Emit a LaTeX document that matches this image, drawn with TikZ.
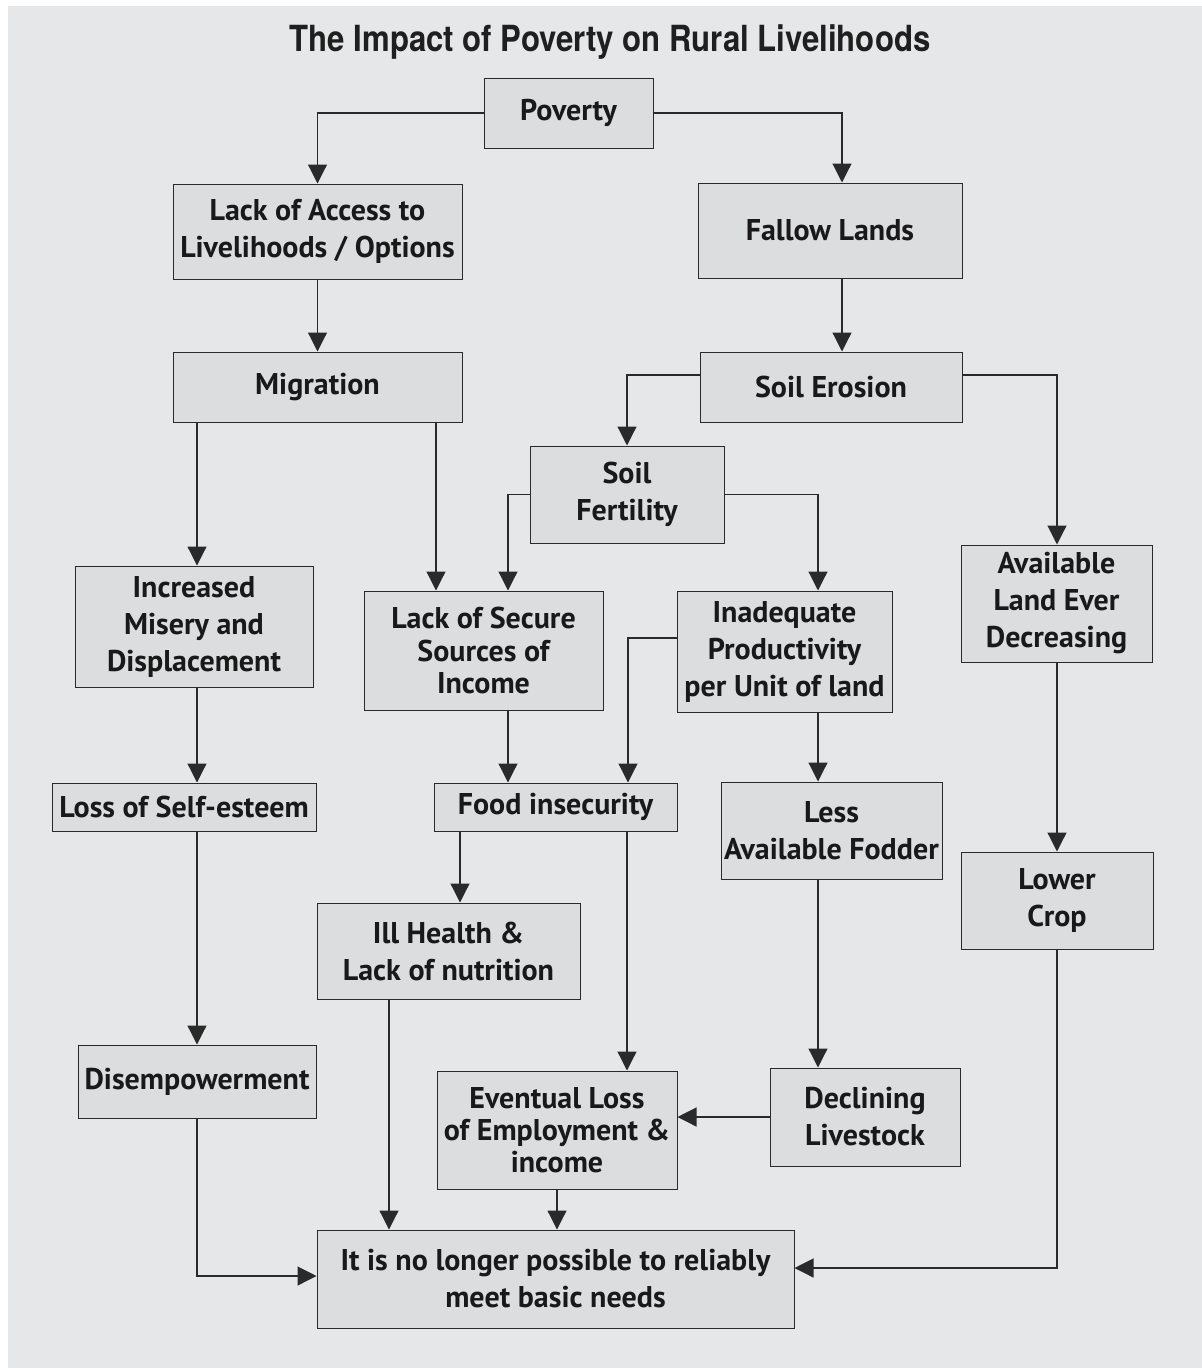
\documentclass[tikz,border=0pt]{standalone}
\usepackage{fontspec}
\setmainfont{PT Sans}
\newfontfamily\titlefont{TeX Gyre Heros}[FakeStretch=0.865]
\usetikzlibrary{arrows.meta}
\definecolor{bgc}{HTML}{E6E7E9}
\definecolor{boxc}{HTML}{DCDDDF}
\definecolor{linec}{HTML}{2A2A2A}
\begin{document}
\begin{tikzpicture}[x=1pt,y=-1pt,
  box/.style={draw=linec, line width=1pt, fill=boxc, inner sep=0pt, align=center,
    font=\fontsize{30}{37}\selectfont\bfseries, text=black!90},
  arr/.style={draw=linec, line width=1.2pt, -{Triangle[width=19pt,length=19pt]}},
  ln/.style={draw=linec, line width=1.2pt}]
\useasboundingbox (0,0) rectangle (1202,1368);
\fill[bgc] (8,6) rectangle (1202,1368);
\node[font=\titlefont\fontsize{36}{40}\selectfont\bfseries, text=black!88] (title) at (610,42) {The Impact of Poverty on Rural Livelihoods};
% boxes
\node[box, minimum width=169pt, minimum height=70pt] (pov) at (568.5,113) {Poverty};
\node[box, minimum width=289pt, minimum height=95pt] (acc) at (317.5,231.5) {\raisebox{-4pt}{\parbox{285pt}{\centering Lack of Access to\\Livelihoods / Options}}};
\node[box, minimum width=264pt, minimum height=95pt] (fal) at (830,230.5) {Fallow Lands};
\node[box, minimum width=289pt, minimum height=70pt] (mig) at (317.5,387) {Migration};
\node[box, minimum width=262pt, minimum height=70pt] (ero) at (831,387) {Soil Erosion};
\node[box, minimum width=194pt, minimum height=97pt] (fer) at (627,494.5) {Soil\\Fertility};
\node[box, minimum width=238pt, minimum height=121pt] (mis) at (194,626.5) {Increased\\Misery and\\Displacement};
\node[box, minimum width=239pt, minimum height=119pt, font=\fontsize{30}{32.5}\selectfont\bfseries] (sec) at (483.5,650.5) {Lack of Secure\\Sources of\\Income};
\node[box, minimum width=215pt, minimum height=121pt] (inq) at (784.5,651.5) {Inadequate\\Productivity\\per Unit of land};
\node[box, minimum width=191pt, minimum height=117pt] (avl) at (1056.5,603.5) {Available\\Land Ever\\Decreasing};
\node[box, minimum width=264pt, minimum height=48pt] (self) at (184,807) {Loss of Self-esteem};
\node[box, minimum width=243pt, minimum height=48pt] (food) at (555.5,807) {Food insecurity};
\node[box, minimum width=221pt, minimum height=97pt] (fod) at (831.5,830.5) {Less\\Available Fodder};
\node[box, minimum width=263pt, minimum height=96pt] (ill) at (448.5,951) {Ill Health \&\\Lack of nutrition};
\node[box, minimum width=192pt, minimum height=97pt] (low) at (1057,900.5) {Lower\\Crop};
\node[box, minimum width=238pt, minimum height=73pt] (dis) at (197,1081.5) {Disempowerment};
\node[box, minimum width=240pt, minimum height=118pt, font=\fontsize{30}{32}\selectfont\bfseries] (evl) at (557,1130) {Eventual Loss\\of Employment \&\\income};
\node[box, minimum width=190pt, minimum height=98pt] (liv) at (865,1117) {Declining\\Livestock};
\node[box, minimum width=477pt, minimum height=98pt] (end) at (555.5,1279) {It is no longer possible to reliably\\meet basic needs};
% helper coordinates
\coordinate (x197) at (197,0);
\coordinate (x436) at (436,0);
\coordinate (x508) at (508,0);
\coordinate (x628) at (628,0);
\coordinate (x818) at (818,0);
\coordinate (x842) at (842,0);
\coordinate (x460) at (460,0);
\coordinate (x627) at (627,0);
\coordinate (x389) at (389,0);
\coordinate (x1057) at (1057,0);
\coordinate (y375) at (0,375);
\coordinate (y638) at (0,638);
\coordinate (y1276) at (0,1276);
\coordinate (y1268) at (0,1268);
% connectors
\draw[arr] (pov.west) -| (acc.north);
\draw[arr] (pov.east) -| (fal.north -| x842);
\draw[arr] (acc.south) -- (mig.north);
\draw[arr] (fal.south -| x842) -- (ero.north -| x842);
\draw[arr] (ero.west |- y375) -| (fer.north);
\draw[arr] (ero.east |- y375) -| (avl.north -| x1057);
\draw[arr] (mig.south -| x197) -- (mis.north -| x197);
\draw[arr] (mig.south -| x436) -- (sec.north -| x436);
\draw[arr] (fer.west) -| (sec.north -| x508);
\draw[arr] (fer.east) -| (inq.north -| x818);
\draw[arr] (mis.south -| x197) -- (self.north -| x197);
\draw[arr] (sec.south -| x508) -- (food.north -| x508);
\draw[arr] (inq.west |- y638) -| (food.north -| x628);
\draw[arr] (inq.south -| x818) -- (fod.north -| x818);
\draw[arr] (avl.south -| x1057) -- (low.north -| x1057);
\draw[arr] (self.south -| x197) -- (dis.north -| x197);
\draw[arr] (food.south -| x460) -- (ill.north -| x460);
\draw[arr] (food.south -| x627) -- (evl.north -| x627);
\draw[arr] (fod.south -| x818) -- (liv.north -| x818);
\draw[arr] (liv.west) -- (evl.east |- liv.west);
\draw[arr] (ill.south -| x389) -- (end.north -| x389);
\draw[arr] (evl.south) -- (end.north -| evl.south);
\draw[arr] (dis.south) |- (end.west |- y1276);
\draw[arr] (low.south) |- (end.east |- y1268);
\end{tikzpicture}
\end{document}
